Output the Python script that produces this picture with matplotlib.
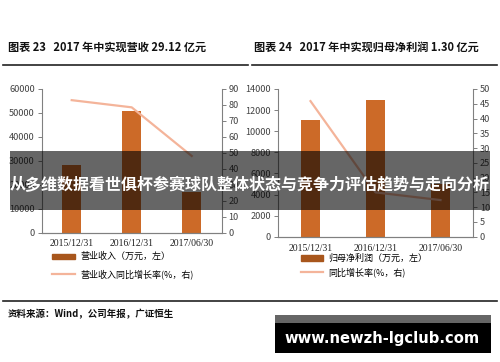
import matplotlib.pyplot as plt
import matplotlib.patches as mpatches
import numpy as np

plt.rcParams['font.family'] = ['Noto Sans CJK SC', 'DejaVu Sans']

categories = ['2015/12/31', '2016/12/31', '2017/06/30']
revenue = [28400, 50800, 17000]          # 万元
revenue_growth = [83.0, 78.5, 48.0]      # %
profit = [11100, 12950, 5000]            # 万元
profit_growth = [45.9, 15.0, 12.4]       # %

bar_color = '#cc6a28'
line_color = '#f4b49a'
spine_color = '#808080'


def style_axes(ax, ax2):
    for a in (ax, ax2):
        a.spines['top'].set_visible(False)
        for s in a.spines.values():
            s.set_color(spine_color)
            s.set_linewidth(0.8)
        a.tick_params(axis='y', labelsize=6.6, length=3, width=0.7,
                      color=spine_color, labelcolor='#444444', pad=2)
    ax.spines['right'].set_visible(False)
    ax2.spines['left'].set_visible(False)
    ax.tick_params(axis='x', length=0, pad=5)
    for lab in ax.get_xticklabels():
        lab.set_family(['Liberation Serif', 'DejaVu Serif'])
        lab.set_fontsize(7)
        lab.set_color('#222222')


def draw_panel(rect, values, growth, ylim, ystep, y2lim, y2step, bw):
    ax = fig.add_axes(rect)
    ax.set_facecolor('none')
    x = np.arange(len(categories))
    bars = ax.bar(x, values, width=bw, color=bar_color, zorder=2)
    ax.set_xlim(-0.5, len(categories) - 0.5)
    ax.set_ylim(0, ylim)
    ax.set_yticks(np.arange(0, ylim + 1, ystep))
    ax.set_xticks(x)
    ax.set_xticklabels(categories)
    ax2 = ax.twinx()
    line, = ax2.plot(x, growth, color=line_color, lw=1.6, zorder=3)
    ax2.set_ylim(0, y2lim)
    ax2.set_yticks(np.arange(0, y2lim + 1, y2step))
    style_axes(ax, ax2)
    return ax, bars, line


fig = plt.figure(figsize=(5, 3.62), dpi=100)
fig.patch.set_facecolor('white')

W, H = 500.0, 362.0

# left chart
axL, barsL, lineL = draw_panel([41.7 / W, (H - 232.5) / H, 180 / W, 143.5 / H],
                               revenue, revenue_growth, 60000, 10000, 90, 10, 0.32)
# right chart
axR, barsR, lineR = draw_panel([278 / W, (H - 236.7) / H, 195 / W, 147.7 / H],
                               profit, profit_growth, 14000, 2000, 50, 5, 0.3)

leg_font = {'family': ['Noto Sans CJK SC', 'DejaVu Sans'], 'size': 6.5}
barh = mpatches.Patch(color='#a8561c')
fig.legend([barh, lineL], ['营业收入（万元，左）', '营业收入同比增长率(%，右)'],
           loc='upper left', bbox_to_anchor=(52 / W, 1 - 252 / H), frameon=False,
           prop=leg_font, handlelength=2.6, handleheight=0.5, labelspacing=0.9,
           handletextpad=0.6, borderaxespad=0, borderpad=0)
fig.legend([barh, lineR], ['归母净利润（万元，左）', '同比增长率(%，右)'],
           loc='upper left', bbox_to_anchor=(301 / W, 1 - 254 / H), frameon=False,
           prop=leg_font, handlelength=2.4, handleheight=0.5, labelspacing=0.45,
           handletextpad=0.6, borderaxespad=0, borderpad=0)

# titles
fig.text(8 / W, 1 - 47 / H, '图表 23   2017 年中实现营收 29.12 亿元',
         fontsize=8, fontweight='bold', va='center', ha='left', color='#111111')
fig.text(254 / W, 1 - 47 / H, '图表 24   2017 年中实现归母净利润 1.30 亿元',
         fontsize=8, fontweight='bold', va='center', ha='left', color='#111111')
fig.add_artist(plt.Line2D([3 / W, 248 / W], [1 - 65 / H] * 2, color='#222222', lw=1.2))
fig.add_artist(plt.Line2D([252 / W, 497 / W], [1 - 65 / H] * 2, color='#222222', lw=1.2))
fig.add_artist(plt.Line2D([3 / W, 497 / W], [1 - 300.5 / H] * 2, color='#222222', lw=1.2))
fig.text(8 / W, 1 - 314 / H, '资料来源：Wind，公司年报，广证恒生',
         fontsize=6.8, fontweight='bold', va='center', ha='left', color='#111111')

# overlay banner
fig.add_artist(mpatches.Rectangle((10 / W, 1 - 210 / H), 480 / W, 59 / H,
                                  transform=fig.transFigure, color='black',
                                  alpha=0.6, lw=0, zorder=10))
fig.text(250 / W, 1 - 185 / H, '从多维数据看世俱杯参赛球队整体状态与竞争力评估趋势与走向分析',
         fontsize=11.5, fontweight='bold', color='white', ha='center', va='center',
         zorder=11)

# watermark box
fig.add_artist(mpatches.Rectangle((275 / W, 1 - 323 / H), 216 / W, 8 / H,
                                  transform=fig.transFigure, color='#666666',
                                  lw=0, zorder=10))
fig.add_artist(mpatches.Rectangle((275 / W, 1 - 353 / H), 216 / W, 30 / H,
                                  transform=fig.transFigure, color='black',
                                  lw=0, zorder=10))
fig.text(382 / W, 1 - 338 / H, 'www.newzh-lgclub.com', fontsize=10.6,
         fontweight='bold', color='white', ha='center', va='center',
         family='DejaVu Sans', zorder=11)

fig.savefig('out.png', dpi=100)
